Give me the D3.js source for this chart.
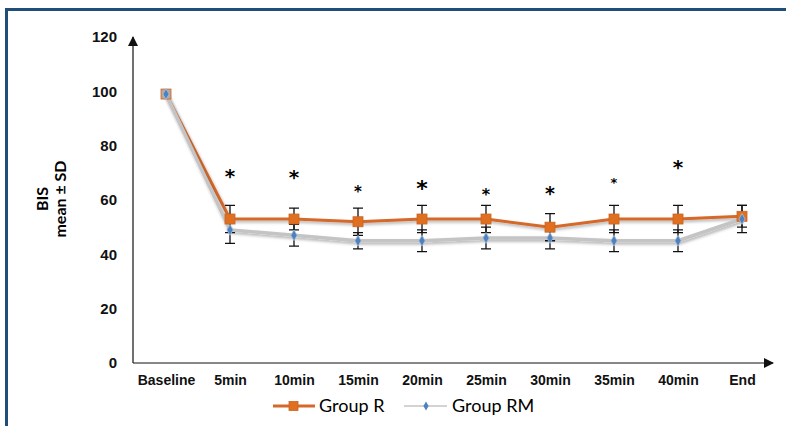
<!DOCTYPE html>
<meta charset="utf-8">
<style>
body { margin: 0; background: #fff; }
svg { display: block; font-family: Lato, "Open Sans", sans-serif; }
.axis text { font-weight: bold; font-size: 14px; fill: #111; }
.axis path { display: none; }
.err { stroke: #111; stroke-width: 1.3px; fill: none; }
</style>
<svg id="chart" width="786" height="426"></svg>
<script src="https://cdn.jsdelivr.net/npm/d3@7"></script>
<script>
// categories along x
var times = ["Baseline", "5min", "10min", "15min", "20min", "25min", "30min", "35min", "40min", "End"];

// Group R (mean, SD)
var rMean = [99, 53, 53, 52, 53, 53, 50, 53, 53, 54];
var rSD   = [0, 5, 4, 5, 5, 5, 5, 5, 5, 4];

// Group RM (mean, SD)
var rmMean = [99, 49, 47, 45, 45, 46, 46, 45, 45, 53];
var rmSD   = [0, 5, 4, 3, 4, 4, 4, 4, 4, 5];

// significance asterisks: which category, height (BIS units), font size
var starTimes = ["5min", "10min", "15min", "20min", "25min", "30min", "35min", "40min"];
var starY     = [69.5, 68.8, 63.4, 64.9, 62.5, 62.8, 66.7, 72.5];
var starSize  = [20, 20, 15, 22, 16, 19, 13, 20];

var yTicks = [0, 20, 40, 60, 80, 100, 120];

var svg = d3.select("#chart");

var x = d3.scalePoint().domain(times).range([166, 742]),
    y = d3.scaleLinear().domain([0, 120]).range([363, 37]);

// blue frame around the figure
svg.append("path")
    .attr("d", "M6.5,426V9.5H786")
    .attr("fill", "none")
    .attr("stroke", "#1f4e79")
    .attr("stroke-width", 3);

var defs = svg.append("defs");
defs.append("marker")
    .attr("id", "arrow")
    .attr("viewBox", "0 0 10 10")
    .attr("refX", 9).attr("refY", 5)
    .attr("markerWidth", 12).attr("markerHeight", 10)
    .attr("markerUnits", "userSpaceOnUse")
    .attr("orient", "auto")
  .append("path")
    .attr("d", "M0,0L10,5L0,10Z")
    .attr("fill", "#111");

var shadow = defs.append("filter").attr("id", "shadow")
    .attr("x", "-10%").attr("y", "-30%").attr("width", "120%").attr("height", "160%");
shadow.append("feDropShadow")
    .attr("dx", 1).attr("dy", 2).attr("stdDeviation", 1.5)
    .attr("flood-color", "#000").attr("flood-opacity", 0.3);

// axes lines with arrows
svg.append("line")
    .attr("x1", 133).attr("x2", 133)
    .attr("y1", y(0)).attr("y2", y(120))
    .attr("stroke", "#111").attr("stroke-width", 1.2)
    .attr("marker-end", "url(#arrow)");

svg.append("line")
    .attr("x1", 133).attr("x2", 773)
    .attr("y1", y(0)).attr("y2", y(0))
    .attr("stroke", "#111").attr("stroke-width", 1.2)
    .attr("marker-end", "url(#arrow)");

svg.append("g")
    .attr("class", "axis axis--y")
    .attr("transform", "translate(133,0)")
    .call(d3.axisLeft(y).tickValues(yTicks).tickSize(0).tickPadding(16))
    .selectAll("text").style("font-size", "15px");

svg.append("g")
    .attr("class", "axis")
    .attr("transform", "translate(0," + y(0) + ")")
    .call(d3.axisBottom(x).tickSize(0).tickPadding(12));

// y title
svg.append("text")
    .attr("transform", "translate(48,199) rotate(-90)")
    .attr("text-anchor", "middle")
    .style("font-weight", "bold").style("font-size", "16px")
    .text("BIS");
svg.append("text")
    .attr("transform", "translate(66,199) rotate(-90)")
    .attr("text-anchor", "middle")
    .style("font-weight", "bold").style("font-size", "16px")
    .text("mean ± SD");

var line = d3.line()
    .x(function(d) { return x(d.t); })
    .y(function(d) { return y(d.v); });

var rData = times.map(function(t, i) { return {t: t, v: rMean[i], sd: rSD[i]}; });
var rmData = times.map(function(t, i) { return {t: t, v: rmMean[i], sd: rmSD[i]}; });

// error bars
function errorBars(data) {
  var g = svg.append("g").attr("class", "err");
  data.filter(function(d) { return d.sd > 0; }).forEach(function(d) {
    var cx = x(d.t), hi = y(d.v + d.sd), lo = y(d.v - d.sd);
    g.append("path").attr("d",
      "M" + cx + "," + hi + "V" + lo +
      "M" + (cx - 5) + "," + hi + "H" + (cx + 5) +
      "M" + (cx - 5) + "," + lo + "H" + (cx + 5));
  });
}

// Group R
svg.append("path")
    .datum(rData)
    .attr("d", line)
    .attr("fill", "none")
    .attr("stroke", "#d5692a")
    .attr("stroke-width", 3)
    .attr("filter", "url(#shadow)");

// Group RM
svg.append("path")
    .datum(rmData)
    .attr("d", line)
    .attr("fill", "none")
    .attr("stroke", "#c4c4c4")
    .attr("stroke-width", 3.5)
    .attr("filter", "url(#shadow)");

errorBars(rData);
errorBars(rmData);

svg.selectAll(".sq")
    .data(rData)
  .enter().append("rect")
    .attr("class", "sq")
    .attr("x", function(d) { return x(d.t) - 5; })
    .attr("y", function(d) { return y(d.v) - 5; })
    .attr("width", 10).attr("height", 10)
    .attr("fill", function(d, i) { return i === 0 ? "#b9a79b" : "#e0701f"; })
    .attr("stroke", "#c86325").attr("stroke-width", 0.8);

var diamond = d3.symbol().type(d3.symbolDiamond).size(34);
svg.selectAll(".dm")
    .data(rmData)
  .enter().append("path")
    .attr("class", "dm")
    .attr("transform", function(d) { return "translate(" + x(d.t) + "," + y(d.v) + ")"; })
    .attr("d", diamond)
    .attr("fill", "#4f81bd")
    .attr("stroke", "#a9c2df").attr("stroke-width", 0.8);

// asterisks
svg.selectAll(".star")
    .data(starTimes)
  .enter().append("text")
    .attr("class", "star")
    .attr("x", function(d) { return x(d); })
    .attr("y", function(d, i) { return y(starY[i]) + starSize[i] * 0.42; })
    .attr("text-anchor", "middle")
    .style("font-family", "'DejaVu Sans', sans-serif")
    .style("font-weight", "bold")
    .style("font-size", function(d, i) { return starSize[i] + "px"; })
    .text("*");

// legend
var lg = svg.append("g").attr("transform", "translate(0,406)");
lg.append("line").attr("x1", 273).attr("x2", 315)
    .attr("stroke", "#d5692a").attr("stroke-width", 3);
lg.append("rect").attr("x", 289).attr("y", -4.5).attr("width", 9).attr("height", 9)
    .attr("fill", "#e0701f").attr("stroke", "#c86325").attr("stroke-width", 0.8);
lg.append("text").attr("x", 319).attr("dy", "0.35em")
    .style("font-size", "18px").text("Group R");
lg.append("line").attr("x1", 404).attr("x2", 447)
    .attr("stroke", "#c4c4c4").attr("stroke-width", 1.5);
lg.append("path").attr("transform", "translate(426,0)")
    .attr("d", d3.symbol().type(d3.symbolDiamond).size(24)).attr("fill", "#4f81bd");
lg.append("text").attr("x", 452).attr("dy", "0.35em")
    .style("font-size", "18px").text("Group RM");
</script>
